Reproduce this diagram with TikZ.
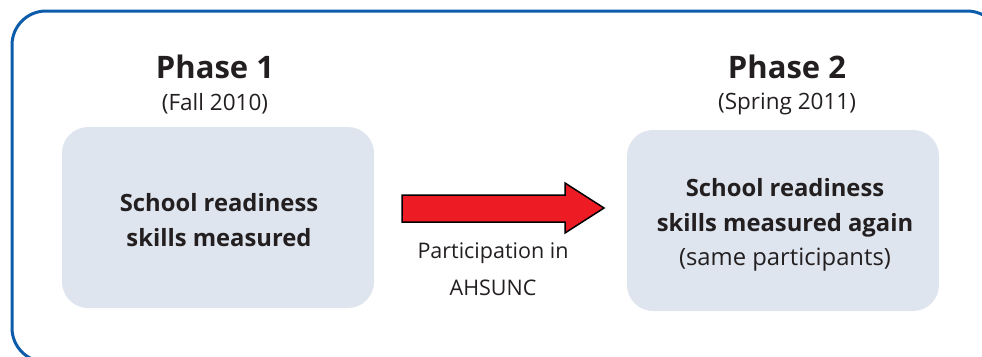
\documentclass[tikz,border=0pt]{standalone}
\usepackage{fontspec}
\setmainfont{Open Sans}
\begin{document}
\begin{tikzpicture}[x=1pt,y=-1pt,
  frame/.style={draw=frameblue,line width=3pt,rounded corners=34pt},
  phasebox/.style={fill=boxfill,rounded corners=26pt},
  title/.style={font=\fontsize{31}{38}\selectfont\bfseries,text=txt},
  sub/.style={font=\fontsize{22.5}{25}\selectfont,text=txt},
  boxtext/.style={font=\fontsize{23.8}{34.5}\selectfont,text=txt,align=center},
  lbl/.style={font=\fontsize{21.5}{37}\selectfont,text=txt,align=center}]
\definecolor{frameblue}{HTML}{0D5BAB}
\definecolor{boxfill}{HTML}{DFE5EF}
\definecolor{arrowred}{HTML}{ED1C24}
\definecolor{txt}{HTML}{231F20}
\useasboundingbox (0,0) rectangle (982,356);
\clip (0,0) rectangle (982,356);
\draw[frame] (12,11) rectangle (1001,362);
\fill[phasebox] (62,127) rectangle (374,308);
\fill[phasebox] (627,130) rectangle (939,311);
\node[title] (p1) at (215,67) {Phase 1};
\node[sub] (d1) at (215,104) {(Fall 2010)};
\node[boxtext] (b1) at (219,220) {\bfseries School readiness\\\bfseries skills measured};
\node[title] (p2) at (787,67) {Phase 2};
\node[sub] (d2) at (787,104) {(Spring 2011)};
\node[boxtext] (b2) at (785,225) {\bfseries School readiness\\\bfseries skills measured again\\(same participants)};
\draw[fill=arrowred,draw=black,line width=1.5pt,line join=miter]
  (402,195) -- (565,195) -- (565,183) -- (604,208) -- (565,233) -- (565,222) -- (402,222) -- cycle;
\node[lbl] (l) at (493,269) {Participation in\\AHSUNC};
\end{tikzpicture}
\end{document}
